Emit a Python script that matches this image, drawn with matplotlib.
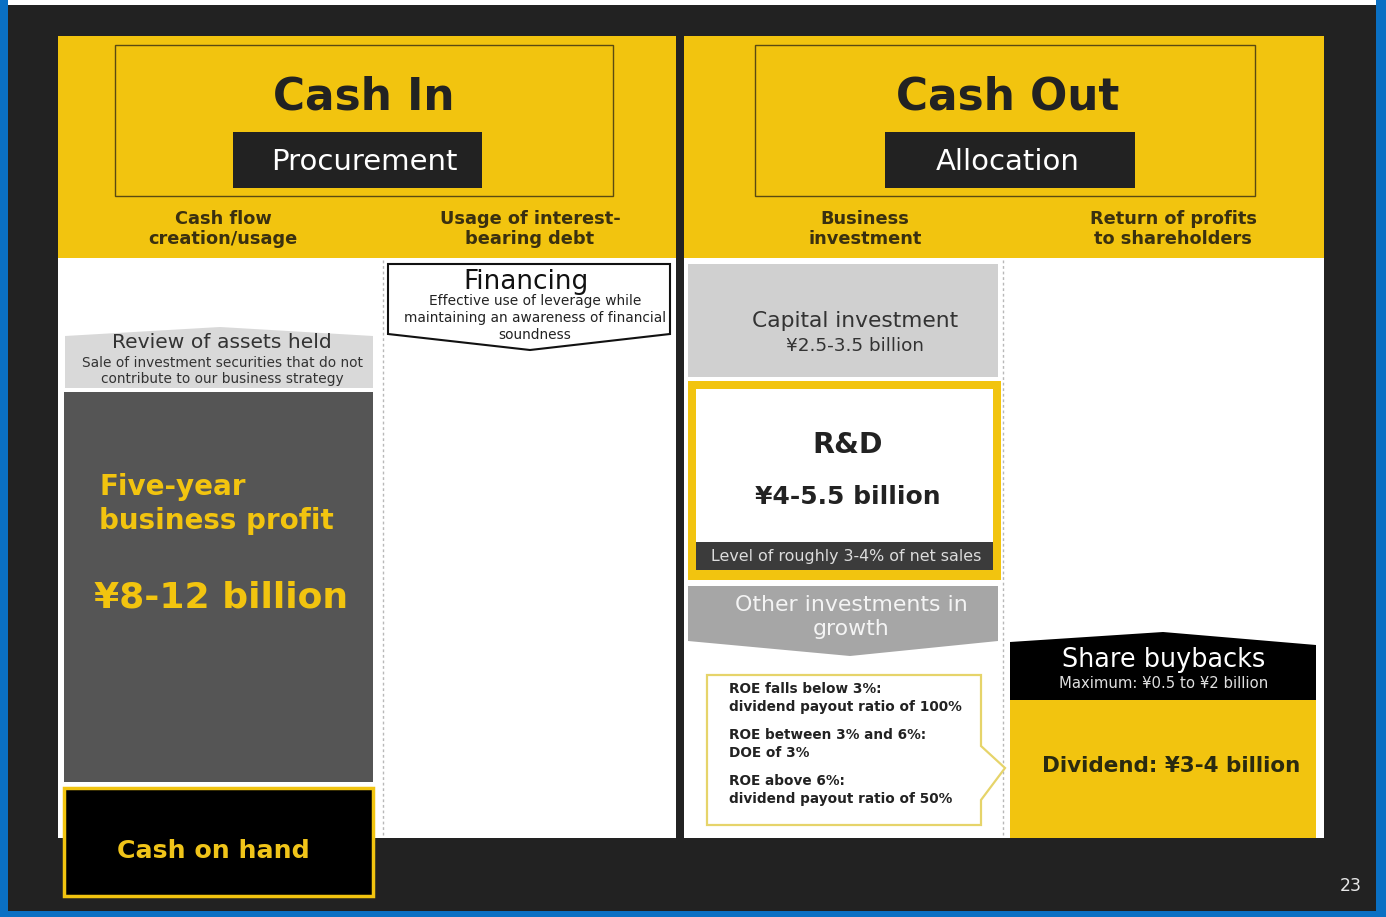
import matplotlib
matplotlib.use("Agg")
import matplotlib.pyplot as plt
from matplotlib.patches import Rectangle, Polygon

# ---------------- text content of the slide ----------------
panel_titles = ["Cash In", "Cash Out"]
panel_tags = ["Procurement", "Allocation"]
column_heads = ["Cash flow\ncreation/usage", "Usage of interest-\nbearing debt",
                "Business\ninvestment", "Return of profits\nto shareholders"]
review_title = "Review of assets held"
review_sub = ["Sale of investment securities that do not",
              "contribute to our business strategy"]
profit_lines = ["Five-year", "business profit"]
profit_value = "¥8-12 billion"
cash_on_hand = "Cash on hand"
fin_title = "Financing"
fin_sub = ["Effective use of leverage while",
           "maintaining an awareness of financial",
           "soundness"]
capex = ["Capital investment", "¥2.5-3.5 billion"]
rnd = ["R&D", "¥4-5.5 billion", "Level of roughly 3-4% of net sales"]
other_inv = "Other investments in\ngrowth"
roe_rules = [("ROE falls below 3%:", "dividend payout ratio of 100%"),
             ("ROE between 3% and 6%:", "DOE of 3%"),
             ("ROE above 6%:", "dividend payout ratio of 50%")]
buyback = ["Share buybacks", "Maximum: ¥0.5 to ¥2 billion"]
dividend = "Dividend: ¥3-4 billion"
page_no = "23"

YEL = "#f2c40f"
DARK = "#222222"
BLUE = "#0a70c4"
TXT = "#2a2a2a"

plt.rcParams["font.family"] = ["DejaVu Sans"]

fig = plt.figure(figsize=(13.86, 9.17), dpi=100)
ax = fig.add_axes([0, 0, 1, 1])
ax.set_xlim(0, 1386)
ax.set_ylim(917, 0)
ax.axis("off")


def rect(x0, y0, x1, y1, fc, ec="none", lw=0, z=1):
    ax.add_patch(Rectangle((x0, y0), x1 - x0, y1 - y0, facecolor=fc,
                           edgecolor=ec, linewidth=lw, zorder=z))


def poly(pts, fc, ec="none", lw=0, z=2):
    ax.add_patch(Polygon(pts, closed=True, facecolor=fc, edgecolor=ec,
                         linewidth=lw, zorder=z, joinstyle="miter"))


def txt(x, y, s, size, color=TXT, weight="normal", ha="center", z=5, **kw):
    ax.text(x, y, s, fontsize=size, color=color, fontweight=weight,
            ha=ha, va="center", zorder=z, **kw)


# background + frame
rect(0, 0, 1386, 917, BLUE, z=0)
rect(8, 0, 1376, 5, "white", z=0.5)
rect(8, 5, 1376, 911, DARK, z=0.6)

# panels
panels = [(58, 676, 115, 613, 233, 482, 364), (684, 1324, 755, 1255, 885, 1135, 1008)]
for i, (px0, px1, bx0, bx1, tx0, tx1, tcx) in enumerate(panels):
    rect(px0, 36, px1, 258, YEL)
    rect(px0, 258, px1, 838, "white")
    rect(bx0, 45, bx1, 196, "none", ec="#5a4a12", lw=1.0, z=2)
    rect(tx0, 132, tx1, 188, "#222222", z=2)
    txt(tcx, 97, panel_titles[i], 31.5, color="#222222", weight="bold")
    txt(tcx, 162, panel_tags[i], 21, color="white")

head_x = [223, 530, 865, 1173]
for x, s in zip(head_x, column_heads):
    txt(x, 229, s, 12.8, color="#3a3010", weight="bold", linespacing=1.1)

# dotted column separators
for x in (383, 1003):
    ax.plot([x, x], [260, 836], color="#b8b8b8", lw=1, ls=(0, (2, 2)), zorder=1.5)

# ---------------- Cash In column ----------------
poly([(65, 388), (65, 336), (220, 327), (373, 336), (373, 388)], "#d9d9d9")
txt(222, 343, review_title, 14.6, color="#333333")
txt(222, 363, review_sub[0], 9.9, color="#333333")
txt(222, 379, review_sub[1], 9.9, color="#333333")

rect(64, 392, 373, 782, "#555555", z=2)
txt(99, 487, profit_lines[0], 20, color=YEL, weight="bold", ha="left")
txt(99, 521, profit_lines[1], 20, color=YEL, weight="bold", ha="left")
txt(94, 597, profit_value, 26, color=YEL, weight="bold", ha="left")

rect(64, 788, 373, 896, "black", ec=YEL, lw=2.5, z=3)
txt(213, 851, cash_on_hand, 18.2, color="#f0c419", weight="bold")

poly([(388, 264), (670, 264), (670, 334), (530, 350), (388, 334)],
     "white", ec="#111111", lw=1.5)
txt(526, 282, fin_title, 18.9, color="#111111")
for k, s in enumerate(fin_sub):
    txt(535, 301 + k * 17, s, 9.9, color="#222222")

# ---------------- Cash Out column ----------------
rect(688, 264, 998, 377, "#d0d0d0", z=2)
txt(855, 321, capex[0], 15.7, color="#333333")
txt(855, 346, capex[1], 13.2, color="#333333")

rect(688, 381, 1001, 580, YEL, z=2)
rect(696, 389, 993, 542, "white", z=3)
rect(696, 542, 993, 570, "#3b3b3b", z=3)
txt(848, 445, rnd[0], 20.5, color="#222222", weight="bold")
txt(848, 497, rnd[1], 18, color="#222222", weight="bold")
txt(846, 556, rnd[2], 11.4, color="#dddddd")

poly([(688, 586), (998, 586), (998, 641), (850, 656), (688, 641)], "#a6a6a6")
txt(851, 617, other_inv, 15.8, color="#f4f4f4", linespacing=1.2)

poly([(707, 675), (981, 675), (981, 746), (1005, 768), (981, 800),
      (981, 825), (707, 825)], "white", ec="#e6d46a", lw=1.6)
for k, (a, b) in enumerate(roe_rules):
    y = 689 + k * 46
    txt(729, y, a, 9.8, color="#222222", weight="bold", ha="left")
    txt(729, y + 18, b, 9.8, color="#222222", weight="bold", ha="left")

poly([(1010, 700), (1010, 642), (1163, 632), (1316, 645), (1316, 700)], "black")
txt(1164, 660, buyback[0], 18.4, color="white")
txt(1164, 684, buyback[1], 10.7, color="#e0e0e0")
rect(1010, 700, 1316, 838, YEL, z=2)
txt(1171, 766, dividend, 15.5, color="#2a2a10", weight="bold")

txt(1351, 886, page_no, 12.5, color="#e8e8e8")

fig.savefig("out.png", dpi=100, facecolor=DARK)
